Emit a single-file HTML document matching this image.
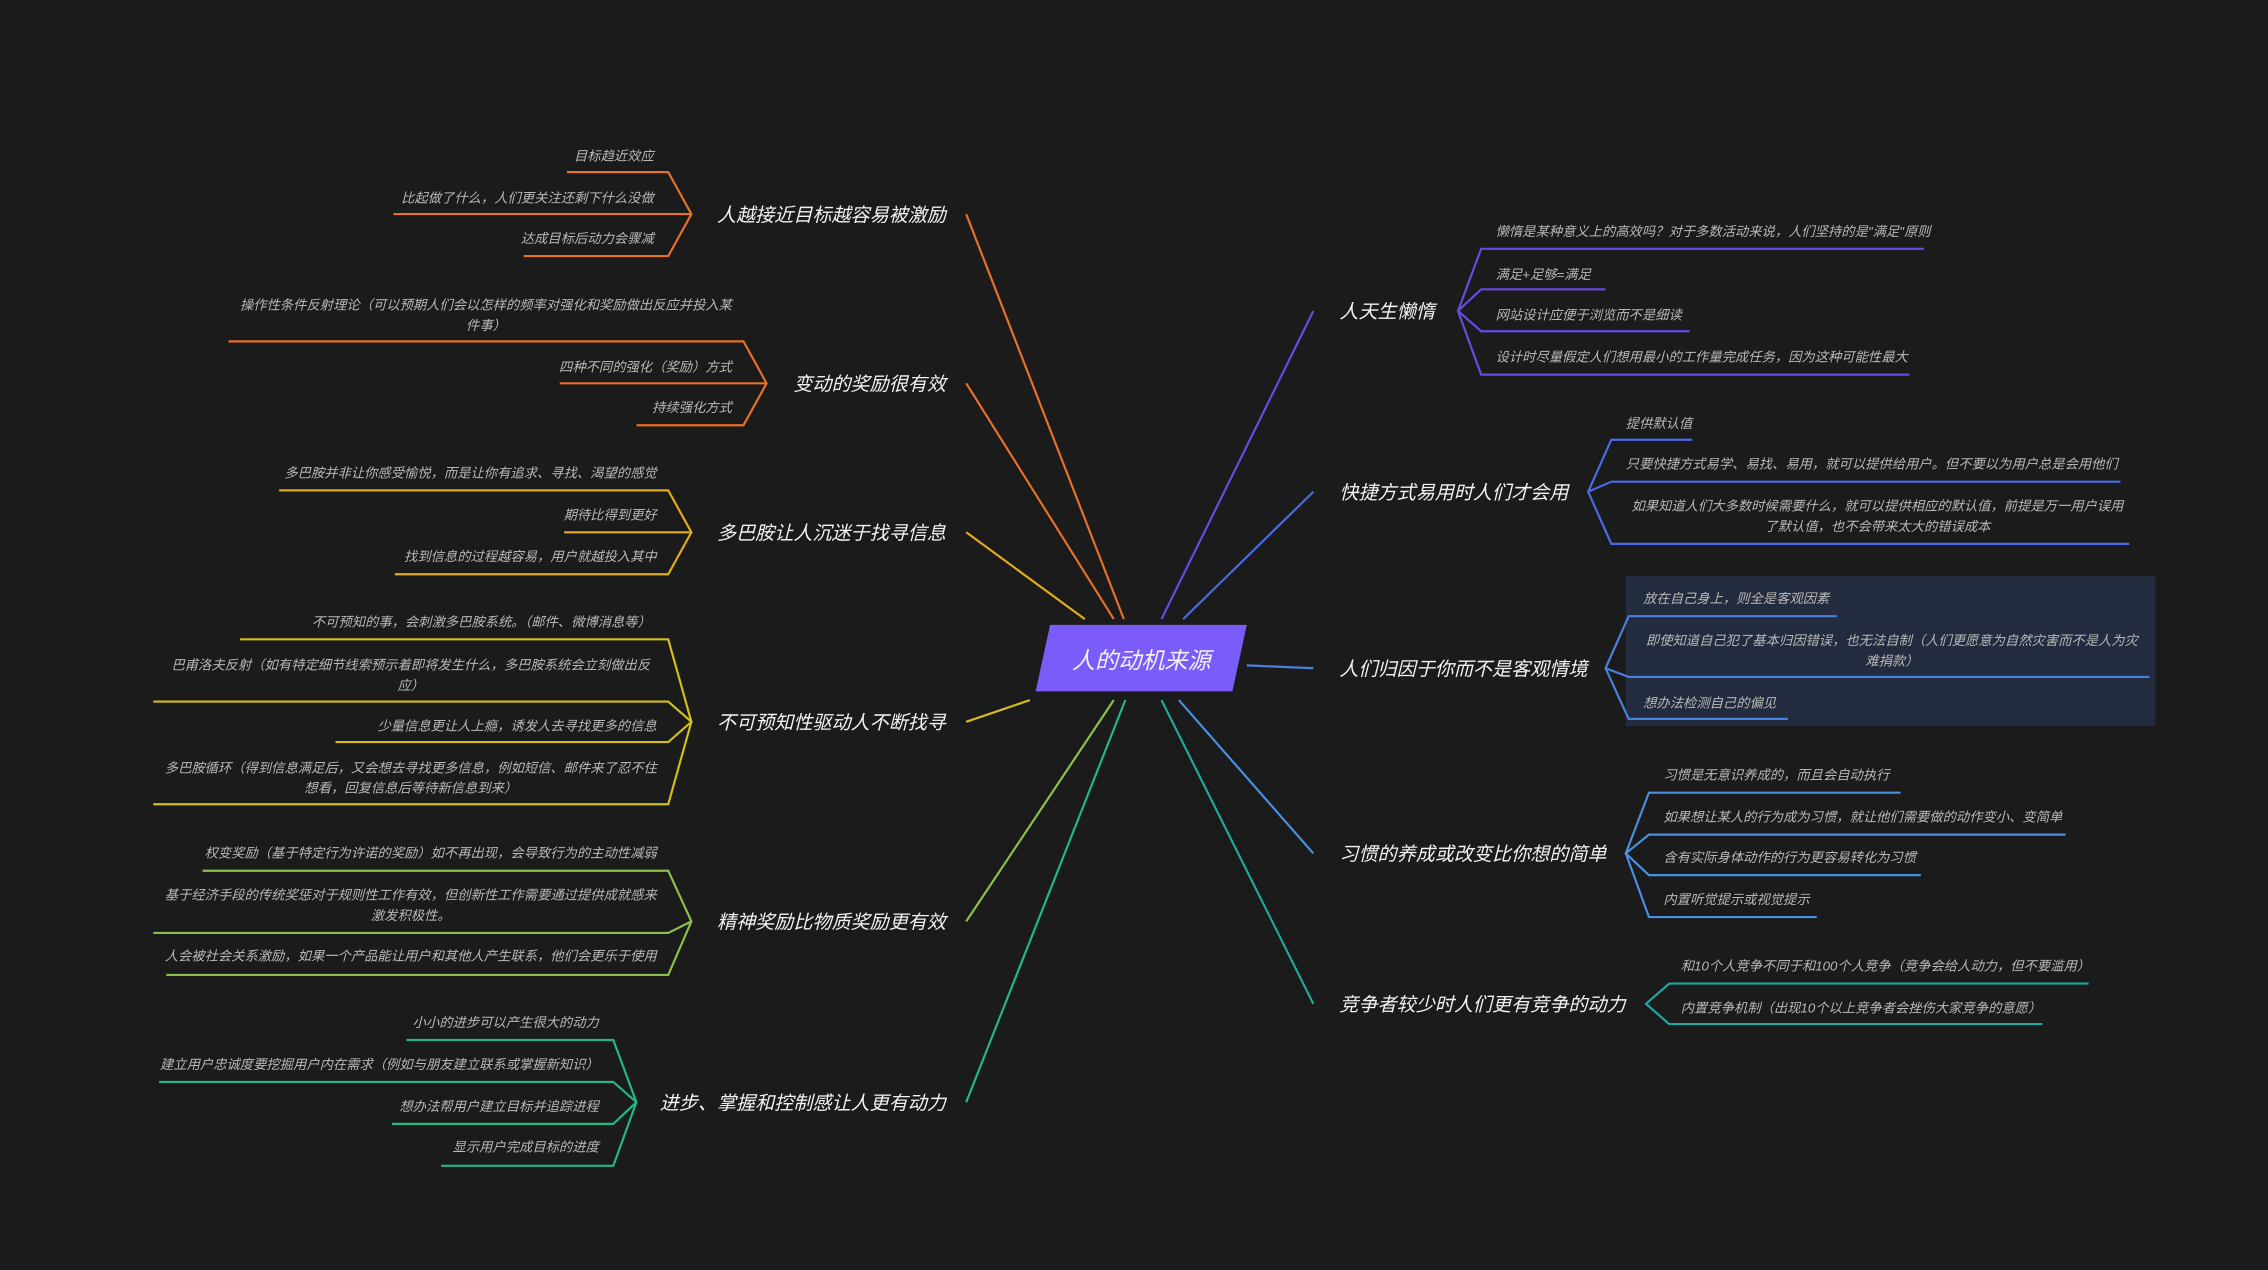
<!DOCTYPE html>
<html><head><meta charset="utf-8"><style>
html,body{margin:0;padding:0;background:#1b1b1c;}
svg{display:block}
text{font-family:"Liberation Sans","Noto Sans CJK SC",sans-serif;font-style:italic;}
.t{font-size:13.2px;fill:#f2f2f2;}
.l{font-size:9.2px;fill:#b8b8b8;}
.e{text-anchor:end}.m{text-anchor:middle}
line,polyline,path{fill:none;stroke-width:1.5}
</style></head><body>
<svg width="2268" height="1270" viewBox="0 0 1568 878" xmlns="http://www.w3.org/2000/svg">
<rect width="1568" height="878" fill="#1b1b1c"/>
<line x1="777" y1="428" x2="668" y2="148" stroke="#e8702a"/>
<line x1="770" y1="428" x2="668" y2="265" stroke="#e8702a"/>
<line x1="750" y1="428" x2="668" y2="368" stroke="#e0ac1c"/>
<line x1="712" y1="484" x2="668" y2="499" stroke="#d4be1c"/>
<line x1="770" y1="484" x2="668" y2="637" stroke="#8cc04a"/>
<line x1="778" y1="484" x2="668" y2="762" stroke="#22b888"/>
<line x1="803" y1="428" x2="908" y2="215" stroke="#6a4ae0"/>
<line x1="818" y1="428" x2="908" y2="340" stroke="#4a6ae8"/>
<line x1="862" y1="460" x2="908" y2="462" stroke="#4a80e0"/>
<line x1="815" y1="484" x2="908" y2="590" stroke="#4a90e0"/>
<line x1="803" y1="484" x2="908" y2="694" stroke="#20a8a0"/>
<polygon points="726,432 862,432 852,478 716,478" fill="#7b5cfa"/>
<text x="789" y="462" class="t m" style="font-size:16px">人的动机来源</text>

<g stroke="#e8702a"><path d="M392,119H462L478,148L462,177H362M272,148H478"/></g>
<text x="654" y="153" class="t e">人越接近目标越容易被激励</text>
<text x="452" y="111" class="l e">目标趋近效应</text>
<text x="452" y="140" class="l e">比起做了什么，人们更关注还剩下什么没做</text>
<text x="452" y="168" class="l e">达成目标后动力会骤减</text>
<g stroke="#e8702a"><path d="M158,236H514L530,265L514,294H440M387,265H530"/></g>
<text x="654" y="270" class="t e">变动的奖励很有效</text>
<text x="336" y="214" class="l m">操作性条件反射理论（可以预期人们会以怎样的频率对强化和奖励做出反应并投入某</text>
<text x="336" y="228" class="l m">件事）</text>
<text x="506" y="257" class="l e">四种不同的强化（奖励）方式</text>
<text x="506" y="285" class="l e">持续强化方式</text>
<g stroke="#e0ac1c"><path d="M193,339H462L478,368L462,397H273M390,368H478"/></g>
<text x="654" y="373" class="t e">多巴胺让人沉迷于找寻信息</text>
<text x="454" y="330" class="l e">多巴胺并非让你感受愉悦，而是让你有追求、寻找、渴望的感觉</text>
<text x="454" y="359" class="l e">期待比得到更好</text>
<text x="454" y="388" class="l e">找到信息的过程越容易，用户就越投入其中</text>
<g stroke="#d4be1c"><path d="M166,442H462L478,499L462,556H106M106,485H462L478,499L462,513H232"/></g>
<text x="654" y="504" class="t e">不可预知性驱动人不断找寻</text>
<text x="450" y="433" class="l e">不可预知的事，会刺激多巴胺系统。（邮件、微博消息等）</text>
<text x="284" y="463" class="l m">巴甫洛夫反射（如有特定细节线索预示着即将发生什么，多巴胺系统会立刻做出反</text>
<text x="284" y="477" class="l m">应）</text>
<text x="454" y="505" class="l e">少量信息更让人上瘾，诱发人去寻找更多的信息</text>
<text x="284" y="534" class="l m">多巴胺循环（得到信息满足后，又会想去寻找更多信息，例如短信、邮件来了忍不住</text>
<text x="284" y="548" class="l m">想看，回复信息后等待新信息到来）</text>
<g stroke="#8cc04a"><path d="M140,602H462L478,637L462,674H115M106,645H462L478,637"/></g>
<text x="654" y="642" class="t e">精神奖励比物质奖励更有效</text>
<text x="454" y="593" class="l e">权变奖励（基于特定行为许诺的奖励）如不再出现，会导致行为的主动性减弱</text>
<text x="284" y="622" class="l m">基于经济手段的传统奖惩对于规则性工作有效，但创新性工作需要通过提供成就感来</text>
<text x="284" y="636" class="l m">激发积极性。</text>
<text x="454" y="664" class="l e">人会被社会关系激励，如果一个产品能让用户和其他人产生联系，他们会更乐于使用</text>
<g stroke="#22b888"><path d="M281,719H424L440,762L424,806H305M110,748H424L440,762L424,777H271"/></g>
<text x="654" y="767" class="t e">进步、掌握和控制感让人更有动力</text>
<text x="414" y="710" class="l e">小小的进步可以产生很大的动力</text>
<text x="414" y="739" class="l e">建立用户忠诚度要挖掘用户内在需求（例如与朋友建立联系或掌握新知识）</text>
<text x="414" y="768" class="l e">想办法帮用户建立目标并追踪进程</text>
<text x="414" y="796" class="l e">显示用户完成目标的进度</text>

<g stroke="#6a4ae0"><path d="M1330,172H1024L1008,215L1024,259H1320M1110,200H1024L1008,215L1024,229H1168"/></g>
<text x="926" y="220" class="t">人天生懒惰</text>
<text x="1034" y="163" class="l">懒惰是某种意义上的高效吗？对于多数活动来说，人们坚持的是"满足"原则</text>
<text x="1034" y="193" class="l">满足+足够=满足</text>
<text x="1034" y="221" class="l">网站设计应便于浏览而不是细读</text>
<text x="1034" y="250" class="l">设计时尽量假定人们想用最小的工作量完成任务，因为这种可能性最大</text>
<g stroke="#4a6ae8"><path d="M1170,304H1114L1098,340L1114,376H1472M1466,333H1114L1098,340"/></g>
<text x="926" y="345" class="t">快捷方式易用时人们才会用</text>
<text x="1124" y="296" class="l">提供默认值</text>
<text x="1124" y="324" class="l">只要快捷方式易学、易找、易用，就可以提供给用户。但不要以为用户总是会用他们</text>
<text x="1298" y="353" class="l m">如果知道人们大多数时候需要什么，就可以提供相应的默认值，前提是万一用户误用</text>
<text x="1298" y="367" class="l m">了默认值，也不会带来太大的错误成本</text>
<rect x="1124" y="398" width="366" height="104" fill="#232b3e"/>
<g stroke="#4a80e0"><path d="M1270,426H1126L1110,462L1126,497H1236M1486,468H1126L1110,462"/></g>
<text x="926" y="467" class="t">人们归因于你而不是客观情境</text>
<text x="1136" y="417" class="l">放在自己身上，则全是客观因素</text>
<text x="1308" y="446" class="l m">即使知道自己犯了基本归因错误，也无法自制（人们更愿意为自然灾害而不是人为灾</text>
<text x="1308" y="460" class="l m">难捐款）</text>
<text x="1136" y="489" class="l">想办法检测自己的偏见</text>
<g stroke="#4a90e0"><path d="M1314,548H1140L1124,590L1140,634H1256M1428,577H1140L1124,590L1140,605H1328"/></g>
<text x="926" y="595" class="t">习惯的养成或改变比你想的简单</text>
<text x="1150" y="539" class="l">习惯是无意识养成的，而且会自动执行</text>
<text x="1150" y="568" class="l">如果想让某人的行为成为习惯，就让他们需要做的动作变小、变简单</text>
<text x="1150" y="596" class="l">含有实际身体动作的行为更容易转化为习惯</text>
<text x="1150" y="625" class="l">内置听觉提示或视觉提示</text>
<g stroke="#20a8a0"><path d="M1444,680H1154L1138,694L1154,708H1412"/></g>
<text x="926" y="699" class="t">竞争者较少时人们更有竞争的动力</text>
<text x="1162" y="671" class="l">和10个人竞争不同于和100个人竞争（竞争会给人动力，但不要滥用）</text>
<text x="1162" y="700" class="l">内置竞争机制（出现10个以上竞争者会挫伤大家竞争的意愿）</text>
</svg>
</body></html>
